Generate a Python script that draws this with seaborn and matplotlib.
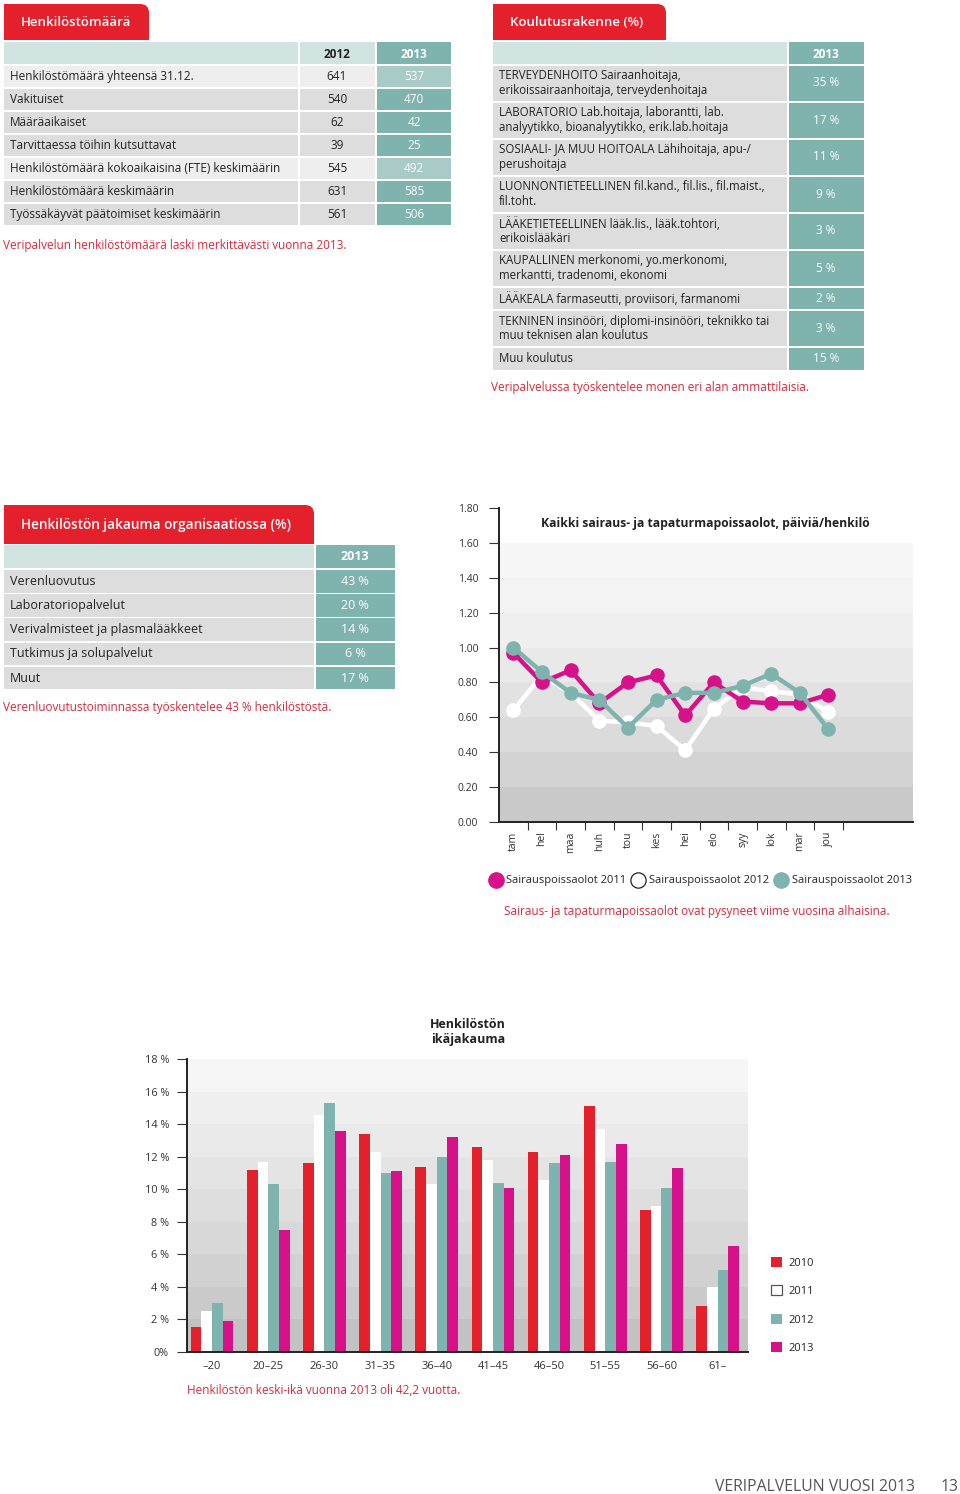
import numpy as np
import pandas as pd
import matplotlib
matplotlib.use("Agg")
import matplotlib.pyplot as plt
import seaborn as sns
from matplotlib.patches import Rectangle, FancyBboxPatch, Patch
from matplotlib.lines import Line2D

# ---------------- data ----------------
staff_rows = ["Henkilöstömäärä yhteensä 31.12.", "Vakituiset", "Määräaikaiset",
              "Tarvittaessa töihin kutsuttavat",
              "Henkilöstömäärä kokoaikaisina (FTE) keskimäärin",
              "Henkilöstömäärä keskimäärin", "Työssäkäyvät päätoimiset keskimäärin"]
staff_2012 = [641, 540, 62, 39, 545, 631, 561]
staff_2013 = [537, 470, 42, 25, 492, 585, 506]

edu_rows = ["TERVEYDENHOITO Sairaanhoitaja,\nerikoissairaanhoitaja, terveydenhoitaja",
            "LABORATORIO Lab.hoitaja, laborantti, lab.\nanalyytikko, bioanalyytikko, erik.lab.hoitaja",
            "SOSIAALI- JA MUU HOITOALA Lähihoitaja, apu-/\nperushoitaja",
            "LUONNONTIETEELLINEN fil.kand., fil.lis., fil.maist.,\nfil.toht.",
            "LÄÄKETIETEELLINEN lääk.lis., lääk.tohtori,\nerikoislääkäri",
            "KAUPALLINEN merkonomi, yo.merkonomi,\nmerkantti, tradenomi, ekonomi",
            "LÄÄKEALA farmaseutti, proviisori, farmanomi",
            "TEKNINEN insinööri, diplomi-insinööri, teknikko tai\nmuu teknisen alan koulutus",
            "Muu koulutus"]
edu_2013 = [35, 17, 11, 9, 3, 5, 2, 3, 15]

org_rows = ["Verenluovutus", "Laboratoriopalvelut", "Verivalmisteet ja plasmalääkkeet",
            "Tutkimus ja solupalvelut", "Muut"]
org_2013 = [43, 20, 14, 6, 17]

months = ["tam", "hel", "maa", "huh", "tou", "kes", "hei", "elo", "syy", "lok", "mar", "jou"]
sick_2011 = [0.97, 0.80, 0.87, 0.68, 0.80, 0.84, 0.61, 0.80, 0.69, 0.68, 0.68, 0.73]
sick_2012 = [0.64, 0.84, 0.74, 0.58, 0.57, 0.55, 0.41, 0.65, 0.77, 0.75, 0.73, 0.63]
sick_2013 = [1.00, 0.86, 0.74, 0.70, 0.54, 0.70, 0.74, 0.74, 0.78, 0.85, 0.74, 0.53]

age_groups = ["–20", "20–25", "26-30", "31–35", "36–40", "41–45", "46–50", "51–55", "56–60", "61–"]
age_years = ["2010", "2011", "2012", "2013"]
age_2010 = [1.5, 11.2, 11.6, 13.4, 11.4, 12.6, 12.3, 15.1, 8.7, 2.8]
age_2011 = [2.5, 11.7, 14.6, 12.3, 10.3, 11.8, 10.6, 13.7, 9.0, 4.0]
age_2012 = [3.0, 10.3, 15.3, 11.0, 12.0, 10.4, 11.6, 11.7, 10.1, 5.0]
age_2013 = [1.9, 7.5, 13.6, 11.1, 13.2, 10.1, 12.1, 12.8, 11.3, 6.5]

# ---------------- style ----------------
RED = "#e3202b"
CAPTION = "#d42b3c"
MAG = "#d6118a"
TEAL = "#7fb3ae"
TEAL_LIGHT = "#a9cbc8"
HEAD = "#d2e4e2"
ROW = "#dddddd"
ROW_LIGHT = "#eeeeee"
TXT = "#222222"

sns.set_theme(style="white")
plt.rcParams["font.family"] = ["Open Sans", "DejaVu Sans"]

W, H = 960, 1494
fig = plt.figure(figsize=(9.6, 14.94), dpi=100)
page = fig.add_axes([0, 0, 1, 1])
page.set_xlim(0, W)
page.set_ylim(H, 0)
page.axis("off")


def cell(x0, x1, y0, y1, color):
    page.add_patch(Rectangle((x0, y0), x1 - x0, y1 - y0, fc=color, ec="none", lw=0))


def tab(x0, x1, y0, y1, label, size, pad=17):
    page.add_patch(FancyBboxPatch((x0, y0), x1 - x0, y1 - y0,
                                  boxstyle="round,pad=0,rounding_size=9", fc=RED, ec="none"))
    cell(x0, (x0 + x1) / 2, y0, y1, RED)
    cell(x0, x1, (y0 + y1) / 2, y1, RED)
    page.text(x0 + pad, (y0 + y1) / 2 + 1, label, color="white", fontsize=size,
              fontweight="semibold", va="center")


# ---- table 1: Henkilöstömäärä ----
tab(4, 149, 4, 40, "Henkilöstömäärä", 9.5)
cell(4, 298, 42, 64, HEAD)
cell(300, 375, 42, 64, HEAD)
cell(377, 451, 42, 64, TEAL)
page.text(337, 54, "2012", ha="center", va="center", fontsize=8.5, fontweight="bold", color=TXT)
page.text(414, 54, "2013", ha="center", va="center", fontsize=8.5, fontweight="bold", color="white")
light_rows = [0, 4]
for i, (lab, a, b) in enumerate(zip(staff_rows, staff_2012, staff_2013)):
    y0 = 65.5 + 23 * i
    y1 = y0 + 21.5
    yc = (y0 + y1) / 2
    cell(4, 298, y0, y1, ROW_LIGHT if i in light_rows else ROW)
    cell(300, 375, y0, y1, ROW_LIGHT if i in light_rows else ROW)
    cell(377, 451, y0, y1, TEAL_LIGHT if i in light_rows else TEAL)
    page.text(10, yc, lab, va="center", fontsize=8.5, color=TXT)
    page.text(337, yc, str(a), ha="center", va="center", fontsize=8.5, color=TXT)
    page.text(414, yc, str(b), ha="center", va="center", fontsize=8.5, color="white")
page.text(3, 245, "Veripalvelun henkilöstömäärä laski merkittävästi vuonna 2013.",
          va="center", fontsize=8.5, color=CAPTION)

# ---- table 2: Koulutusrakenne ----
tab(493, 666, 4, 40, "Koulutusrakenne (%)", 9.5)
cell(493, 787, 42, 64, HEAD)
cell(789, 864, 42, 64, TEAL)
page.text(826, 54, "2013", ha="center", va="center", fontsize=8.5, fontweight="bold", color="white")
y0 = 65.5
for lab, v in zip(edu_rows, edu_2013):
    h = 35 if "\n" in lab else 21.5
    y1 = y0 + h
    yc = (y0 + y1) / 2
    cell(493, 787, y0, y1, ROW)
    cell(789, 864, y0, y1, TEAL)
    page.text(499, yc, lab, va="center", fontsize=8.3, color=TXT, linespacing=1.15)
    page.text(826, yc, f"{v} %", ha="center", va="center", fontsize=8.5, color="white")
    y0 = y1 + 2
page.text(491, 387, "Veripalvelussa työskentelee monen eri alan ammattilaisia.",
          va="center", fontsize=8.5, color=CAPTION)

# ---- table 3: Henkilöstön jakauma ----
tab(4, 314, 505, 544, "Henkilöstön jakauma organisaatiossa (%)", 9.8)
cell(4, 314, 545, 568, HEAD)
cell(316, 395, 545, 568, TEAL)
page.text(355, 557, "2013", ha="center", va="center", fontsize=9, fontweight="bold", color="white")
for i, (lab, v) in enumerate(zip(org_rows, org_2013)):
    y0 = 570 + 24.2 * i
    y1 = y0 + 22.5
    yc = (y0 + y1) / 2
    cell(4, 314, y0, y1, ROW)
    cell(316, 395, y0, y1, TEAL)
    page.text(10, yc, lab, va="center", fontsize=9, color=TXT)
    page.text(355, yc, f"{v} %", ha="center", va="center", fontsize=9, color="white")
page.text(3, 708, "Verenluovutustoiminnassa työskentelee 43 % henkilöstöstä.",
          va="center", fontsize=8.5, color=CAPTION)

# ---------------- line chart ----------------
ax1 = fig.add_axes([499 / W, 1 - 821.7 / H, (913 - 499) / W, (821.7 - 508.3) / H])
ax1.set_facecolor("none")
bands1 = ["#c9c9c9", "#d3d3d3", "#dbdbdb", "#e2e2e2", "#e9e9e9", "#efefef", "#f3f3f3", "#f7f7f7"]
for k, c in enumerate(bands1):
    ax1.axhspan(0.2 * k, 0.2 * (k + 1), color=c, lw=0, zorder=0)

xpos = np.arange(len(months)) + 0.5
for vals, col in [(sick_2012, "white"), (sick_2011, MAG), (sick_2013, TEAL)]:
    d = pd.DataFrame({"x": xpos, "y": vals})
    sns.lineplot(data=d, x="x", y="y", ax=ax1, color=col, linewidth=3.2, marker="o",
                 markersize=10.5, markeredgewidth=0, zorder=3)

ax1.set_xlim(0, 14.45)
ax1.set_ylim(0, 1.8)
ax1.set_yticks(np.arange(0, 1.81, 0.2))
ax1.set_yticklabels([f"{t:.2f}" for t in np.arange(0, 1.81, 0.2)])
ax1.set_xticks(np.arange(1, 13))
ax1.set_xticklabels([])
ax1.set_xticks(xpos, minor=True)
ax1.set_xticklabels(months, minor=True, rotation=90)
ax1.tick_params(axis="y", which="major", left=True, length=7, width=0.8, pad=8,
                labelsize=7.5, color="#333333", labelcolor="#333333")
ax1.tick_params(axis="x", which="major", bottom=True, length=6, width=0.8, color="#333333")
ax1.tick_params(axis="x", which="minor", bottom=True, length=0, pad=7, labelsize=7.5,
                labelcolor="#333333")
ax1.set_xlabel("")
ax1.set_ylabel("")
for s in ["top", "right"]:
    ax1.spines[s].set_visible(False)
for s in ["left", "bottom"]:
    ax1.spines[s].set_color("#222222")
    ax1.spines[s].set_linewidth(1.4)
ax1.grid(False)

page.text(705, 523, "Kaikki sairaus- ja tapaturmapoissaolot, päiviä/henkilö",
          ha="center", va="center", fontsize=8.7, fontweight="bold", color=TXT)

h1 = [Line2D([], [], ls="none", marker="o", markersize=11, mfc=MAG, mec=MAG),
      Line2D([], [], ls="none", marker="o", markersize=11, mfc="white", mec="#222222", mew=0.9),
      Line2D([], [], ls="none", marker="o", markersize=11, mfc=TEAL, mec=TEAL)]
fig.legend(h1, ["Sairauspoissaolot 2011", "Sairauspoissaolot 2012", "Sairauspoissaolot 2013"],
           loc="center", bbox_to_anchor=(701 / W, 1 - 881 / H), ncol=3, frameon=False,
           fontsize=8, handletextpad=0.45, columnspacing=0.6, handlelength=1.0,
           borderaxespad=0, borderpad=0)
page.text(697, 911, "Sairaus- ja tapaturmapoissaolot ovat pysyneet viime vuosina alhaisina.",
          ha="center", va="center", fontsize=8.5, color=CAPTION)

# ---------------- bar chart ----------------
ax2 = fig.add_axes([187 / W, 1 - 1351.7 / H, (748 - 187) / W, (1351.7 - 1059.3) / H])
ax2.set_facecolor("none")
bands2 = ["#c2c2c2", "#cacaca", "#d1d1d1", "#d8d8d8", "#dedede",
          "#e4e4e4", "#eaeaea", "#f0f0f0", "#f6f6f6"]
for k, c in enumerate(bands2):
    ax2.axhspan(2 * k, 2 * (k + 1), color=c, lw=0, zorder=0)

age_df = pd.DataFrame({
    "ika": age_groups * 4,
    "vuosi": [y for y in age_years for _ in age_groups],
    "osuus": age_2010 + age_2011 + age_2012 + age_2013,
})
sns.barplot(data=age_df, x="ika", y="osuus", hue="vuosi", order=age_groups,
            hue_order=age_years, palette=[RED, "white", TEAL, MAG], saturation=1,
            width=0.76, gap=0, errorbar=None, edgecolor="none", linewidth=0,
            legend=False, ax=ax2, zorder=2)
ax2.set_xlim(-0.445, 9.54)
ax2.set_ylim(0, 18)
ax2.set_yticks(np.arange(0, 19, 2))
ax2.set_yticklabels(["0%"] + [f"{t} %" for t in range(2, 19, 2)])
ax2.tick_params(axis="y", left=True, length=7, width=0.8, pad=6, labelsize=7.8,
                color="#333333", labelcolor="#333333")
ax2.tick_params(axis="x", bottom=False, pad=1, labelsize=8, labelcolor="#333333")
ax2.set_xlabel("")
ax2.set_ylabel("")
for s in ["top", "right"]:
    ax2.spines[s].set_visible(False)
for s in ["left", "bottom"]:
    ax2.spines[s].set_color("#222222")
    ax2.spines[s].set_linewidth(1.4)
ax2.grid(False)

page.text(468, 1032, "Henkilöstön\nikäjakauma", ha="center", va="center", fontsize=9,
          fontweight="bold", color=TXT, linespacing=1.2)

h2 = [Patch(fc=RED, ec="none"), Patch(fc="white", ec="#555555", lw=0.9),
      Patch(fc=TEAL, ec="none"), Patch(fc=MAG, ec="none")]
fig.legend(h2, age_years, loc="upper left", bbox_to_anchor=(771 / W, 1 - 1257 / H),
           frameon=False, fontsize=8, handlelength=1.0, handleheight=1.0,
           handletextpad=0.6, labelspacing=1.5, borderaxespad=0, borderpad=0)
page.text(187, 1390, "Henkilöstön keski-ikä vuonna 2013 oli 42,2 vuotta.",
          va="center", fontsize=8.5, color=CAPTION)

# ---------------- footer ----------------
page.text(715, 1487, "VERIPALVELUN VUOSI 2013", va="center", fontsize=11.3, color="#555555")
page.text(959, 1487, "13", ha="right", va="center", fontsize=11.3, color="#555555")

fig.savefig("out.png", dpi=100)
